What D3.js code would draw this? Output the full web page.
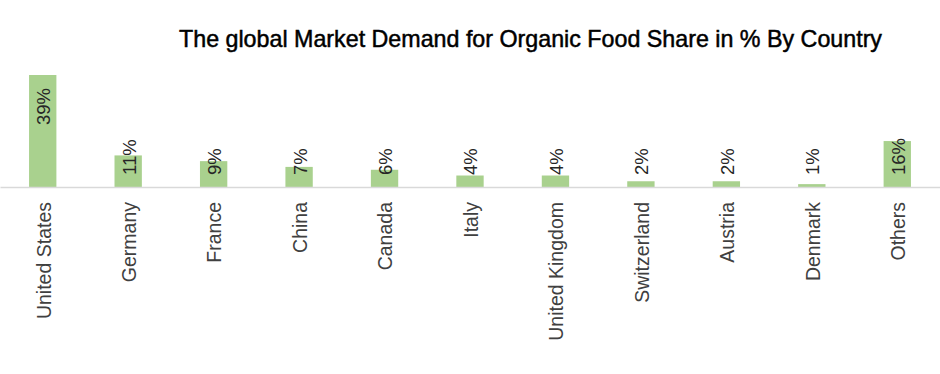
<!DOCTYPE html>
<html>
<head>
<meta charset="utf-8">
<script src="https://cdn.jsdelivr.net/npm/d3@7"></script>
<style>
  body { margin: 0; background: #fff; }
  svg { display: block; }
</style>
</head>
<body>
<div id="bar-chart"></div>
<script>
const countries = ['United States', 'Germany', 'France', 'China', 'Canada', 'Italy',
  'United Kingdom', 'Switzerland', 'Austria', 'Denmark', 'Others']
const shares = [39, 11, 9, 7, 6, 4, 4, 2, 2, 1, 16]
const title = 'The global Market Demand for Organic Food Share in % By Country'

const width = 940
const height = 374
const baseY = 187

const svg = d3
  .select('#bar-chart')
  .append('svg')
  .attr('width', width)
  .attr('height', height)

const datapoints = countries.map((c, i) => ({ country: c, share: shares[i] }))

const xPositionScale = d3
  .scaleBand()
  .domain(countries)
  .range([0, width])
  .paddingInner(0.68)
  .paddingOuter(0.34)

const yPositionScale = d3
  .scaleLinear()
  .domain([0, 39])
  .range([baseY, 75])

// title
svg
  .append('text')
  .attr('x', 179)
  .attr('y', 47)
  .attr('textLength', 703)
  .attr('lengthAdjust', 'spacingAndGlyphs')
  .style('font-family', '"Liberation Sans Narrow", "Liberation Sans", Arial, sans-serif')
  .style('font-size', '24px')
  .attr('fill', '#000')
  .attr('stroke', '#000')
  .attr('stroke-width', 0.5)
  .text(title)

// bars
svg
  .selectAll('.bar')
  .data(datapoints)
  .enter()
  .append('rect')
  .attr('class', 'bar')
  .attr('x', d => xPositionScale(d.country))
  .attr('width', xPositionScale.bandwidth())
  .attr('y', d => yPositionScale(d.share))
  .attr('height', d => baseY - yPositionScale(d.share))
  .attr('fill', '#a9d18e')

// x axis
const xAxis = d3.axisBottom(xPositionScale).tickSize(0).tickPadding(0)

const xg = svg
  .append('g')
  .attr('class', 'axis x-axis')
  .attr('transform', 'translate(0,' + baseY + ')')
  .call(xAxis)

xg.select('.domain').attr('stroke', '#d9d9d9').attr('stroke-width', 1.5)

xg
  .selectAll('.tick text')
  .attr('transform', 'rotate(-90)')
  .attr('x', -15)
  .attr('y', 1)
  .attr('dy', '0.35em')
  .attr('text-anchor', 'end')
  .style('font-family', '"Liberation Sans", Arial, sans-serif')
  .style('font-size', '19.5px')
  .attr('fill', '#404040')

// value labels
svg
  .selectAll('.value')
  .data(datapoints)
  .enter()
  .append('text')
  .attr('class', 'value')
  .attr('transform', d => {
    const cx = xPositionScale(d.country) + xPositionScale.bandwidth() / 2 + 1
    const cy = d.share >= 30 ? yPositionScale(d.share) + 13 : baseY - 12
    return 'translate(' + cx + ',' + cy + ') rotate(-90)'
  })
  .attr('dy', '0.35em')
  .attr('text-anchor', d => (d.share >= 30 ? 'end' : 'start'))
  .style('font-family', '"Liberation Sans", Arial, sans-serif')
  .style('font-size', '18.5px')
  .attr('fill', '#262626')
  .text(d => d.share + '%')
</script>
</body>
</html>
